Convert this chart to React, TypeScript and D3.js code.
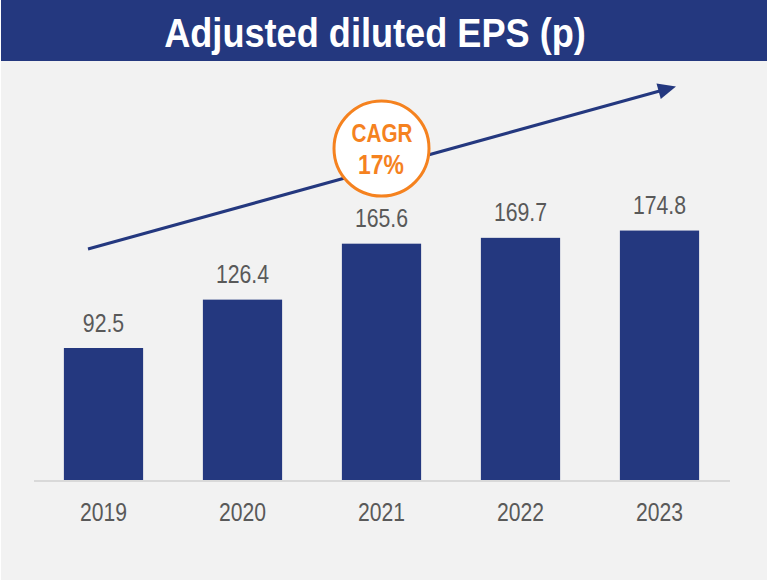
import React from "react";
import * as d3 from "d3";

const years = ["2019", "2020", "2021", "2022", "2023"];
const eps = [92.5, 126.4, 165.6, 169.7, 174.8];
const valueLabels = ["92.5", "126.4", "165.6", "169.7", "174.8"];
const title = "Adjusted diluted EPS (p)";
const cagrLines = ["CAGR", "17%"];

const W = 768;
const H = 581;
const NAVY = "#24387f";
const ORANGE = "#f5821f";
const GREY_TEXT = "#595959";
const FONT = "'Liberation Sans', Arial, sans-serif";

function NarrowText(props: {
  x: number;
  y: number;
  sx: number;
  size: number;
  fill: string;
  bold?: boolean;
  children: React.ReactNode;
}) {
  return (
    <g transform={`translate(${props.x},${props.y}) scale(${props.sx},1)`}>
      <text
        x={0}
        y={0}
        textAnchor="middle"
        fill={props.fill}
        fontFamily={FONT}
        fontWeight={props.bold ? "bold" : "normal"}
        fontSize={props.size}
      >
        {props.children}
      </text>
    </g>
  );
}

export default function App() {
  const x = d3.scaleBand<string>().domain(years).range([34, 729]).paddingInner(0.43).paddingOuter(0.215);
  const y = d3.scaleLinear().domain([0, 200]).range([480, 194.6]);

  const arrowStart: [number, number] = [88, 249];
  const tip: [number, number] = [676, 86.5];
  const ang = Math.atan2(tip[1] - arrowStart[1], tip[0] - arrowStart[0]);
  const headLen = 18;
  const headHalf = 8;
  const bx = tip[0] - headLen * Math.cos(ang);
  const by = tip[1] - headLen * Math.sin(ang);
  const p1 = [bx + headHalf * Math.sin(ang), by - headHalf * Math.cos(ang)];
  const p2 = [bx - headHalf * Math.sin(ang), by + headHalf * Math.cos(ang)];
  const lineEnd = [bx + 2 * Math.cos(ang), by + 2 * Math.sin(ang)];

  return (
    <div style={{ position: "absolute", left: 0, top: 0 }}>
      <svg width={W} height={H} style={{ display: "block" }}>
        <rect x={0} y={0} width={W} height={H} fill="#ffffff" />
        <rect x={1} y={61} width={W - 2} height={H - 62} fill="#f2f2f2" />
        <rect x={1} y={0} width={W - 2} height={61} fill={NAVY} />
        <NarrowText x={375} y={46.5} sx={0.904} size={40} fill="#ffffff" bold>
          {title}
        </NarrowText>

        {/* bars */}
        {eps.map((v, i) => (
          <rect
            key={years[i]}
            x={x(years[i])}
            y={y(v)}
            width={x.bandwidth()}
            height={y(0) - y(v)}
            fill={NAVY}
          />
        ))}

        {/* axis line */}
        <line x1={34} x2={730} y1={y(0) + 1} y2={y(0) + 1} stroke="#d9d9d9" strokeWidth={2} />

        {/* value labels */}
        {eps.map((v, i) => (
          <NarrowText
            key={"v" + years[i]}
            x={(x(years[i]) as number) + x.bandwidth() / 2}
            y={y(v) - 16.5}
            sx={0.85}
            size={25}
            fill={GREY_TEXT}
          >
            {valueLabels[i]}
          </NarrowText>
        ))}

        {/* year labels */}
        {years.map((yr) => (
          <NarrowText
            key={"y" + yr}
            x={(x(yr) as number) + x.bandwidth() / 2}
            y={521}
            sx={0.845}
            size={25}
            fill={GREY_TEXT}
          >
            {yr}
          </NarrowText>
        ))}

        {/* trend arrow */}
        <line
          x1={arrowStart[0]}
          y1={arrowStart[1]}
          x2={lineEnd[0]}
          y2={lineEnd[1]}
          stroke={NAVY}
          strokeWidth={3}
        />
        <polygon points={`${tip[0]},${tip[1]} ${p1[0]},${p1[1]} ${p2[0]},${p2[1]}`} fill={NAVY} />

        {/* CAGR bubble */}
        <circle cx={381.5} cy={148.5} r={47.5} fill="#ffffff" stroke={ORANGE} strokeWidth={3} />
        <NarrowText x={382} y={141.7} sx={0.78} size={26.5} fill={ORANGE} bold>
          {cagrLines[0]}
        </NarrowText>
        <NarrowText x={381} y={173.5} sx={0.85} size={27} fill={ORANGE} bold>
          {cagrLines[1]}
        </NarrowText>
      </svg>
    </div>
  );
}
